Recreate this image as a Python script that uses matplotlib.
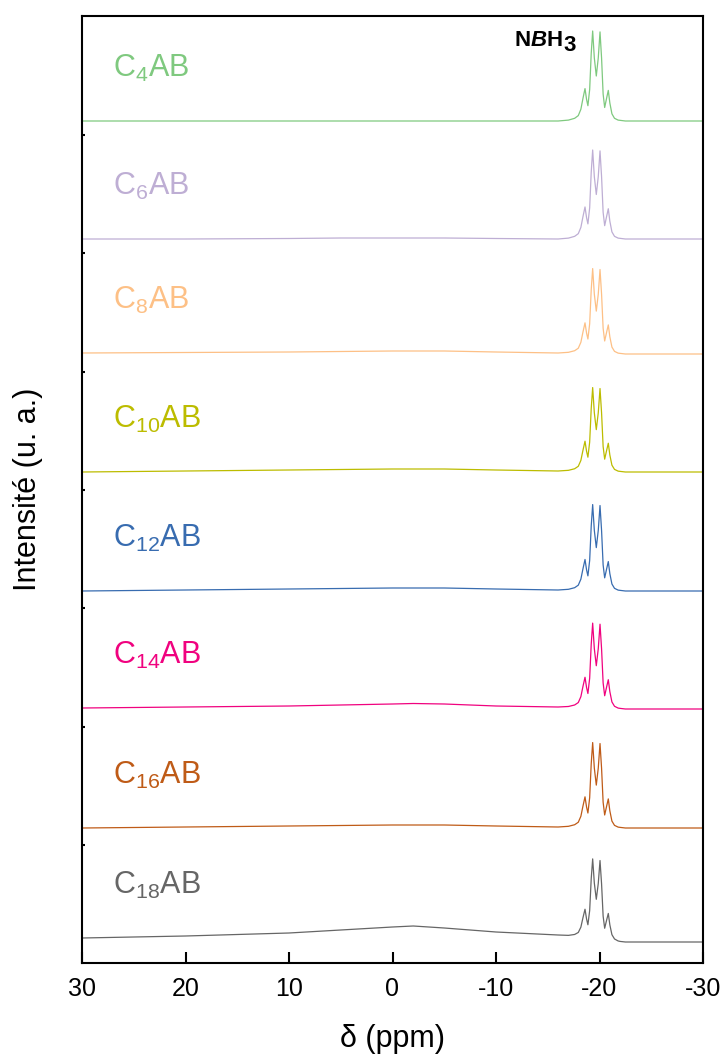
import numpy as np
import matplotlib
matplotlib.use("Agg")
from matplotlib import pyplot as plt

plt.rcParams['font.family'] = ['Liberation Sans', 'DejaVu Sans']
plt.rcParams['mathtext.fontset'] = 'custom'
plt.rcParams['mathtext.rm'] = 'Liberation Sans'
plt.rcParams['mathtext.bf'] = 'Liberation Sans:bold'
plt.rcParams['mathtext.it'] = 'Liberation Sans:italic'
plt.rcParams['mathtext.bfit'] = 'Liberation Sans:bold:italic'
plt.rcParams['axes.unicode_minus'] = False

# samples, top to bottom in the figure
names = ['C$_\\mathregular{4}$AB', 'C$_\\mathregular{6}$AB', 'C$_\\mathregular{8}$AB',
         'C$_\\mathregular{10}$AB', 'C$_\\mathregular{12}$AB', 'C$_\\mathregular{14}$AB',
         'C$_\\mathregular{16}$AB', 'C$_\\mathregular{18}$AB']
colors = ['#7fc97f', '#beaed4', '#fdc086', '#bcbc00',
          '#386cb0', '#f0027f', '#bf5b17', '#666666']
offsets = [842, 724, 610, 491, 372, 255, 135, 25]
peak_heights = [90, 89, 85, 84, 86, 85, 85, 80]

# NBH3 quartet (relative to the tallest line)
quartet_ppm = [-16.0, -17.0, -17.6, -17.95, -18.2, -18.4, -18.6, -18.75, -18.88,
               -19.05, -19.2, -19.34, -19.5, -19.69, -19.88, -20.05, -20.2, -20.35,
               -20.5, -20.68, -20.85, -21.0, -21.2, -21.45, -21.8, -22.5]
quartet_rel = [0.0, 0.01, 0.03, 0.06, 0.13, 0.25, 0.36, 0.24, 0.17,
               0.35, 0.75, 1.0, 0.7, 0.5, 0.7, 0.99, 0.7, 0.3,
               0.15, 0.25, 0.34, 0.2, 0.08, 0.03, 0.01, 0.0]

# broad background under each trace
base_ppm = [30, 20, 10, 5, 0, -2, -5, -10, -16, -22, -30]
baselines = [
    [0, 0, 0, 0, 0, 0, 0, 0, 0, 0, 0],
    [0, 0, 0.5, 1, 1, 1, 1, 0.5, 0, 0, 0],
    [0, 0.5, 1, 1.5, 2, 2, 2, 1, 0, -1, -1],
    [0, 1, 2, 2.5, 3, 3, 3, 2, 1, 0, 0],
    [0, 1, 2, 2.5, 3, 3, 3, 2, 1, 0, 0],
    [0, 1, 2, 3, 4, 4.5, 4, 2, 1, -1, -1],
    [0, 1, 2, 2.5, 3, 3, 3, 2, 1, 0, 0],
    [0, 2, 5, 8, 11, 12, 10, 6, 3, -4, -4],
]

fig = plt.figure(figsize=(7.24, 10.55), dpi=100)
ax = fig.add_axes([82 / 724, 92 / 1055, 621 / 724, 947 / 1055])

grid = np.array(sorted(set(base_ppm) | set(quartet_ppm)))
for name, col, off, h, base in zip(names, colors, offsets, peak_heights, baselines):
    y = np.interp(grid, base_ppm[::-1], base[::-1])
    y = y + h * np.interp(grid, quartet_ppm[::-1], quartet_rel[::-1], left=0, right=0)
    ax.plot(grid, y + off, color=col, lw=0.9)
    ax.text(27.0, off + 53, name, color=col, fontsize=22, ha='left', va='center')

t = ax.text(-14.1, 923, r'$\mathbf{N}\mathbfit{B}\mathbf{H}$', fontsize=16,
            ha='center', va='center')
ax.annotate('3', xy=(1, 0), xycoords=t, xytext=(0.5, -4), textcoords='offset points',
            fontsize=16, fontweight='bold', ha='left', va='bottom')

ax.set_xlim(30, -30)
ax.set_ylim(0, 947)
ax.set_xticks([30, 20, 10, 0, -10, -20, -30])
ax.set_xticklabels(['30', '20', '10', '0', '-10', '-20', '-30'])
ax.set_yticks([118, 236, 355, 473, 591, 710, 828])
ax.set_yticklabels([])
ax.tick_params(axis='x', direction='in', length=8, width=1.5, labelsize=18, pad=10)
ax.tick_params(axis='y', direction='in', length=2, width=1.5)
for sp in ax.spines.values():
    sp.set_linewidth(1.5)

ax.set_xlabel('\u03b4 (ppm)', fontsize=22)
ax.xaxis.set_label_coords(0.5, -0.064)
ax.xaxis.label.set_va('top')
ax.set_ylabel('Intensit\u00e9 (u. a.)', fontsize=22)
ax.yaxis.set_label_coords(-0.062, 0.5)

fig.savefig('out.png', dpi=100)
